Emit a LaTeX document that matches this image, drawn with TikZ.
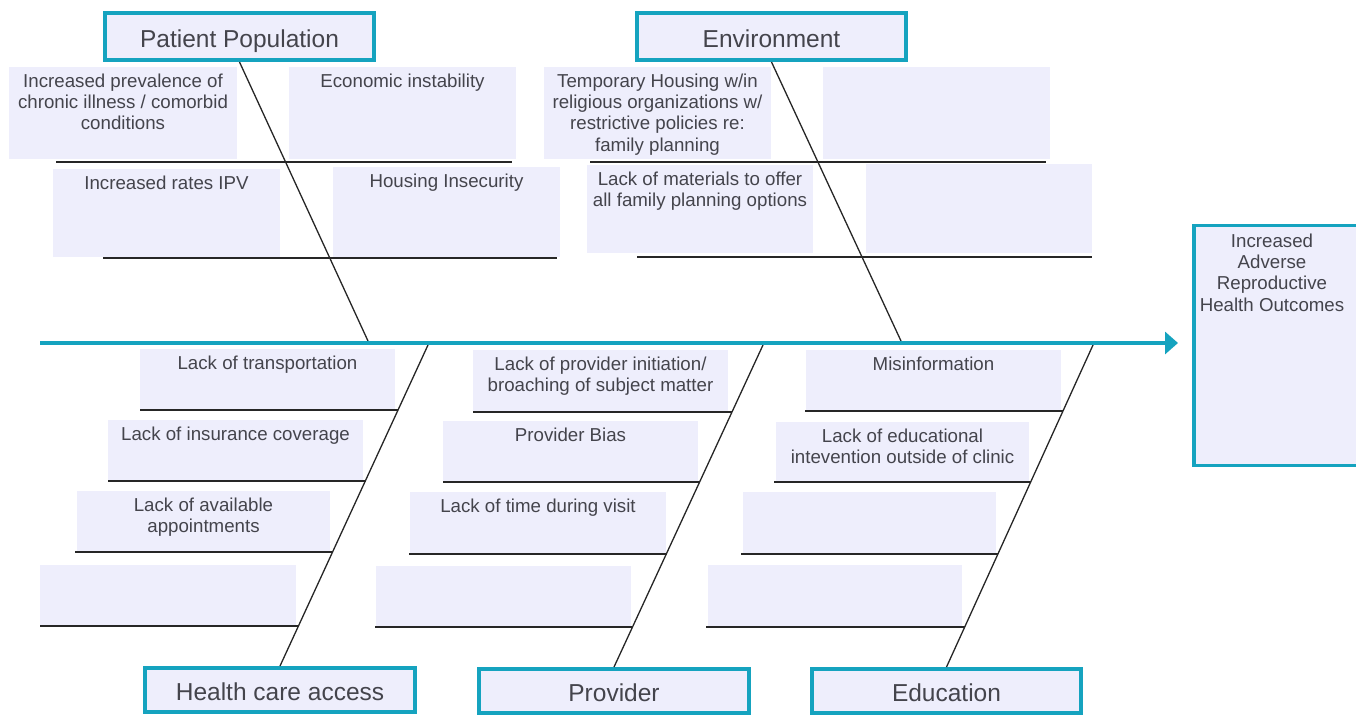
\documentclass[tikz,border=0pt]{standalone}
\usepackage{fontspec}
\setmainfont{Liberation Sans}
\usetikzlibrary{arrows.meta,calc}
\definecolor{teal1}{RGB}{21,163,191}
\definecolor{lav}{RGB}{238,238,252}
\definecolor{txtc}{RGB}{68,68,76}
\tikzset{
  hdr/.style={draw=teal1, line width=4pt, fill=lav, inner sep=0pt, text=txtc,
    font=\fontsize{24.5}{29}\selectfont, text height=21pt, text depth=0pt},
  cbox/.style={fill=lav, inner sep=0pt},
  txt/.style={text=txtc, font=\fontsize{18.7}{21.4}\selectfont, align=center,
    inner xsep=0pt, inner ysep=6.5pt, anchor=north},
  rib/.style={draw=black!85, line width=1.8pt},
  bone/.style={draw=black!85, line width=1.3pt},
  spine/.style={draw=teal1, line width=4.5pt, -{Triangle[length=13pt,width=22pt]}},
}
\newcommand{\cause}[6]{%
  \node[cbox, minimum width={(#4-#2)*1pt}, minimum height={(#5-#3)*1pt}] (#1) at ({(#2+#4)/2},{(#3+#5)/2}) {};
  \node[txt] (#1t) at (#1.north) {#6};}
\newcommand{\blankcause}[5]{%
  \node[cbox, minimum width={(#4-#2)*1pt}, minimum height={(#5-#3)*1pt}] (#1) at ({(#2+#4)/2},{(#3+#5)/2}) {};}
\begin{document}
\begin{tikzpicture}[x=1pt,y=-1pt]
\useasboundingbox (0,0) rectangle (1356,715);

% headers
\node[hdr, minimum width=269pt, minimum height=47pt] (pp) at (239.5,36.5) {Patient Population};
\node[hdr, minimum width=269pt, minimum height=47pt] (env) at (771.5,36.5) {Environment};
\node[hdr, minimum width=270pt, minimum height=44pt] (hca) at (280,690) {Health care access};
\node[hdr, minimum width=270pt, minimum height=44pt] (prov) at (614,691) {Provider};
\node[hdr, minimum width=269pt, minimum height=44pt] (edu) at (946.5,691) {Education};

% result
\node[draw=teal1, line width=3.5pt, fill=lav, inner sep=0pt, minimum width=168pt, minimum height=240pt] (res) at (1278,345.5) {};
\node[txt] (rest) at ([xshift=-6pt,yshift=-3pt]res.north) {Increased\\Adverse\\Reproductive\\Health Outcomes};

% top causes: patient population
\cause{a1}{9}{67}{237}{159}{Increased prevalence of\\chronic illness / comorbid\\conditions}
\cause{a2}{289}{67}{516}{159}{Economic instability}
\cause{a3}{53}{169}{280}{257}{Increased rates IPV}
\cause{a4}{333}{167}{560}{257}{Housing Insecurity}
% environment
\cause{b1}{544}{67}{771}{159}{Temporary Housing w/in\\religious organizations w/\\restrictive policies re:\\family planning}
\blankcause{b2}{823}{67}{1050}{159}
\cause{b3}{587}{165}{813}{253}{Lack of materials to offer\\all family planning options}
\blankcause{b4}{866}{164}{1092}{253}

% health care access
\cause{c1}{140}{349}{395}{410}{Lack of transportation}
\cause{c2}{108}{420}{363}{481}{Lack of insurance coverage}
\cause{c3}{77}{491}{330}{552}{Lack of available\\appointments}
\blankcause{c4}{40}{565}{296}{626}
% provider
\cause{d1}{473}{350}{728}{412}{Lack of provider initiation/\\broaching of subject matter}
\cause{d2}{443}{421}{698}{482}{Provider Bias}
\cause{d3}{410}{492}{666}{554}{Lack of time during visit}
\blankcause{d4}{376}{566}{631}{627}
% education
\cause{e1}{806}{350}{1061}{411}{Misinformation}
\cause{e2}{776}{422}{1029}{482}{Lack of educational\\intevention outside of clinic}
\blankcause{e3}{743}{492}{996}{554}
\blankcause{e4}{708}{565}{962}{627}

% ribs
\draw[rib] (56,162) -- (512,162);
\draw[rib] (103,258) -- (557,258);
\draw[rib] (590,162) -- (1046,162);
\draw[rib] (637,257) -- (1092,257);

\draw[rib] (140,410) -- (398.2,410);
\draw[rib] (108,481) -- (365.7,481);
\draw[rib] (75,552) -- (333.2,552);
\draw[rib] (40,626) -- (299.2,626);

\draw[rib] (473,412) -- (732.1,412);
\draw[rib] (443,482) -- (699.8,482);
\draw[rib] (409,554) -- (666.6,554);
\draw[rib] (375,627) -- (632.9,627);

\draw[rib] (805,411) -- (1063.1,411);
\draw[rib] (774,482) -- (1030.9,482);
\draw[rib] (741,554) -- (998.2,554);
\draw[rib] (706,627) -- (965.1,627);

% spine and bones
\coordinate (tail) at (40,343);
\coordinate (head) at (1178,343);
\coordinate (s1) at (368,341);
\coordinate (s2) at (901,341);
\coordinate (s3) at (428,345);
\coordinate (s4) at (763,345);
\coordinate (s5) at (1093,345);
\draw[bone] (pp.south) -- (s1);
\draw[bone] (env.south) -- (s2);
\draw[bone] (s3) -- (hca.north);
\draw[bone] (s4) -- (prov.north);
\draw[bone] (s5) -- (edu.north);
\draw[spine] (tail) -- (head);
\end{tikzpicture}
\end{document}
